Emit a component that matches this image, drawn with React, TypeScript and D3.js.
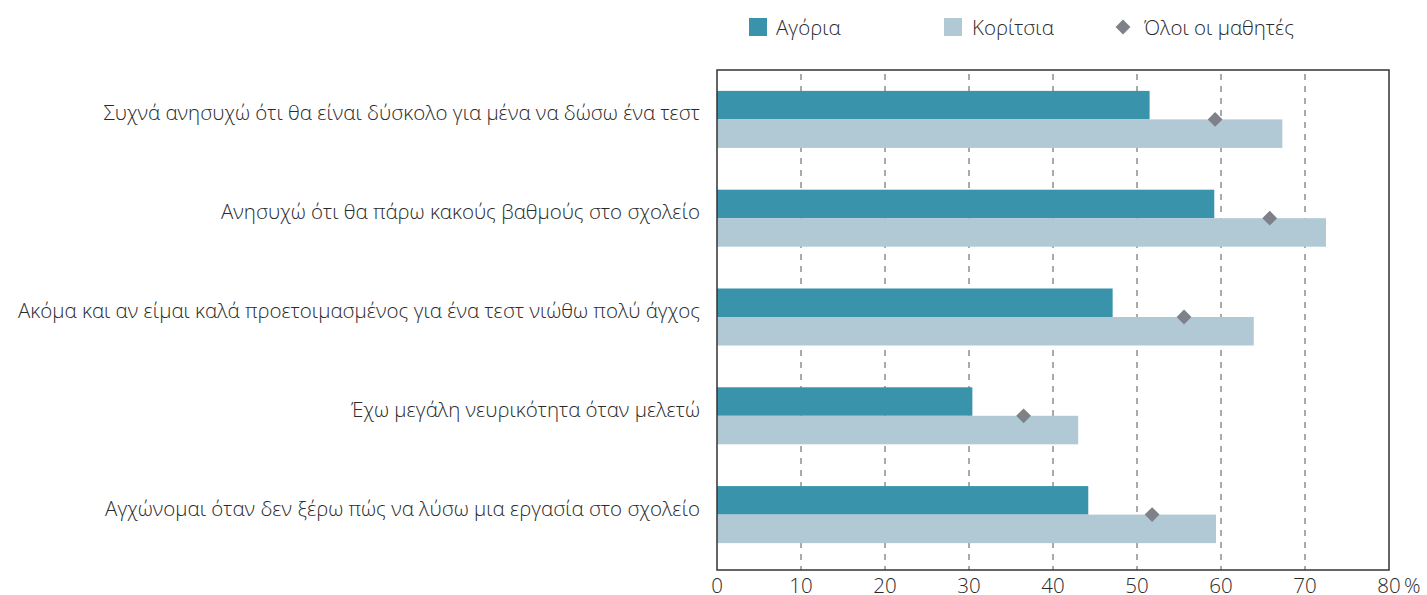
import React from "react";
import * as d3 from "d3";

const categories = [
  "Συχνά ανησυχώ ότι θα είναι δύσκολο για μένα να δώσω ένα τεστ",
  "Ανησυχώ ότι θα πάρω κακούς βαθμούς στο σχολείο",
  "Ακόμα και αν είμαι καλά προετοιμασμένος για ένα τεστ νιώθω πολύ άγχος",
  "Έχω μεγάλη νευρικότητα όταν μελετώ",
  "Αγχώνομαι όταν δεν ξέρω πώς να λύσω μια εργασία στο σχολείο",
];
const boys = [51.5, 59.2, 47.1, 30.4, 44.2];
const girls = [67.3, 72.5, 63.9, 43.0, 59.4];
const all = [59.3, 65.8, 55.6, 36.5, 51.8];
const ticks = [0, 10, 20, 30, 40, 50, 60, 70, 80];
const legendLabels = ["Αγόρια", "Κορίτσια", "Όλοι οι μαθητές"];

const W = 1427;
const H = 595;
const FONT = "'Open Sans', Roboto, 'Liberation Sans', sans-serif";
const C_BOYS = "#3994ab";
const C_GIRLS = "#b0c9d5";
const C_ALL = "#7f8189";
const C_TEXT = "#2a2a2a";
const FS = 20.5;

export default function App() {
  const left = 717;
  const right = 1389;
  const top = 70;
  const bottom = 570;
  const x = d3.scaleLinear().domain([0, 80]).range([left, right]);
  const y = d3
    .scaleBand<string>()
    .domain(categories)
    .range([top, 564])
    .paddingInner(0.4228)
    .paddingOuter(0.2114);
  const bh = y.bandwidth() / 2;
  const diamond = d3.symbol().type(d3.symbolDiamond2).size(140)();

  return (
    <svg
      width={W}
      height={H}
      style={{ position: "absolute", left: 0, top: 0, display: "block" }}
      fontFamily={FONT}
    >
      <rect x={0} y={0} width={W} height={H} fill="#fff" />
      {/* legend */}
      <g>
        <rect x={749} y={18} width={18} height={18} fill={C_BOYS} />
        <text x={776} y={35} fontSize={FS} fontWeight={300} fill={C_TEXT}>
          {legendLabels[0]}
        </text>
        <rect x={944} y={18} width={18} height={18} fill={C_GIRLS} />
        <text x={972} y={35} fontSize={FS} fontWeight={300} fill={C_TEXT}>
          {legendLabels[1]}
        </text>
        <path d={diamond || ""} transform="translate(1123,27)" fill={C_ALL} />
        <text x={1144} y={35} fontSize={FS} fontWeight={300} fill={C_TEXT}>
          {legendLabels[2]}
        </text>
      </g>
      {/* grid */}
      {ticks.slice(1, -1).map((t) => (
        <line
          key={t}
          x1={x(t)}
          x2={x(t)}
          y1={top}
          y2={bottom}
          stroke="#555"
          strokeWidth={1}
          strokeDasharray="6,6"
          strokeDashoffset={-4}
        />
      ))}
      {/* bars */}
      {categories.map((c, i) => {
        const y0 = y(c)!;
        return (
          <g key={c}>
            <rect x={x(0)} y={y0} width={x(boys[i]) - x(0)} height={bh} fill={C_BOYS} />
            <rect x={x(0)} y={y0 + bh} width={x(girls[i]) - x(0)} height={bh} fill={C_GIRLS} />
          </g>
        );
      })}
      {categories.map((c, i) => (
        <path
          key={"d" + c}
          d={diamond || ""}
          transform={`translate(${x(all[i])},${y(c)! + bh})`}
          fill={C_ALL}
        />
      ))}
      {/* frame */}
      <rect
        x={left}
        y={top}
        width={right - left}
        height={bottom - top}
        fill="none"
        stroke="#333"
        strokeWidth={1.5}
      />
      {/* category labels */}
      {categories.map((c) => (
        <text
          key={"l" + c}
          x={700}
          y={y(c)! + bh + 1}
          textAnchor="end"
          fontSize={FS}
          fontWeight={300}
          fill={C_TEXT}
        >
          {c}
        </text>
      ))}
      {/* x tick labels */}
      {ticks.map((t) => (
        <text
          key={"t" + t}
          x={x(t)}
          y={593}
          textAnchor="middle"
          fontSize={FS}
          fontWeight={300}
          fill={C_TEXT}
        >
          {t}
        </text>
      ))}
      <text x={x(80) + 15} y={593} fontSize={FS} fontWeight={300} fill={C_TEXT}>
        %
      </text>
    </svg>
  );
}
